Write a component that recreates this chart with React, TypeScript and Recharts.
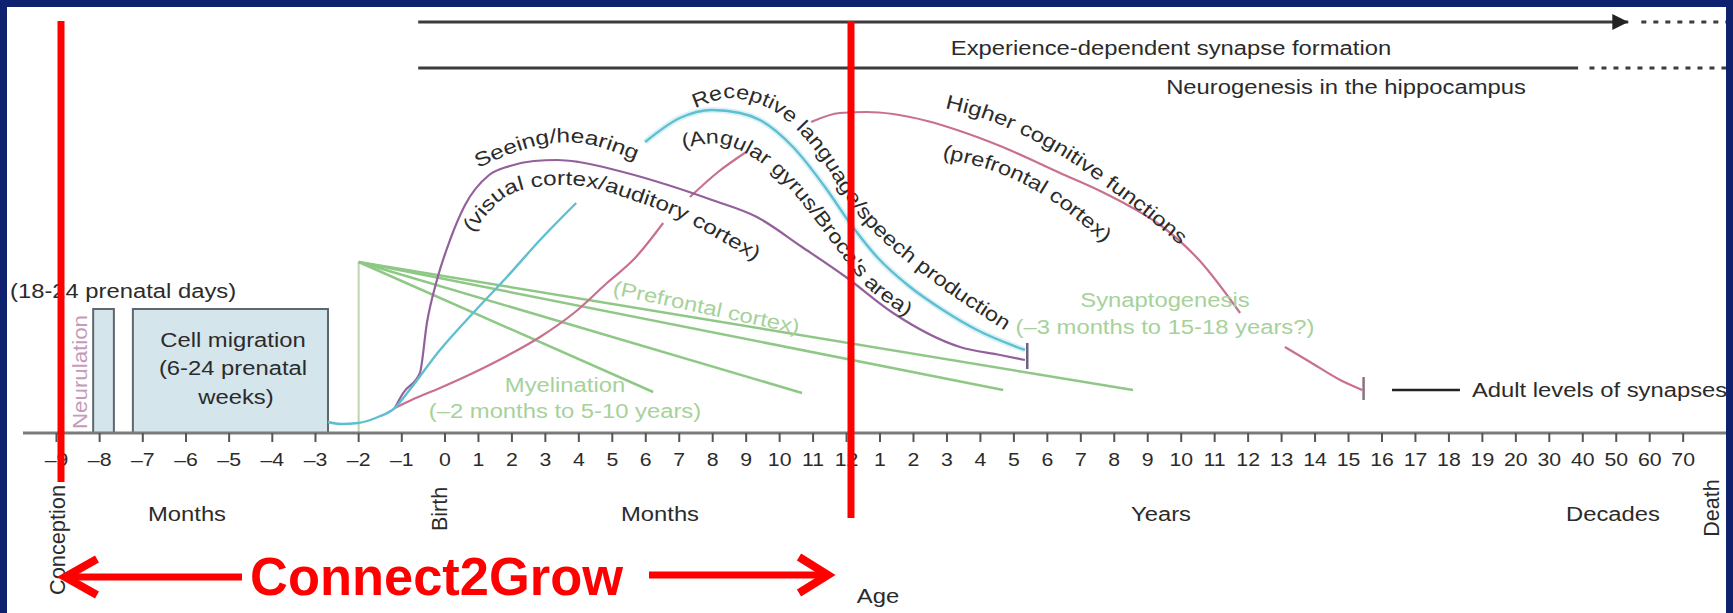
import React from 'react';
import { LineChart, Line, XAxis, YAxis, ReferenceArea } from 'recharts';

// Age axis in "steps": after birth one step is one tick (month, then year, then decade).
// Prenatal months are drawn wider on the original figure, 1.29 steps each.
const PRENATAL_STEP = 1.29;

const prenatalMonths = [-9, -8, -7, -6, -5, -4, -3, -2, -1];
const infantMonths = [0, 1, 2, 3, 4, 5, 6, 7, 8, 9, 10, 11, 12];
const childYears = [1, 2, 3, 4, 5, 6, 7, 8, 9, 10, 11, 12, 13, 14, 15, 16, 17, 18, 19, 20];
const adultDecades = [30, 40, 50, 60, 70];

type Pt = [number, number | null];

// [age step, level above the axis]; null = gap behind a label
const receptiveRise: Pt[] = [
  [-3.5, 11], [-3.1, 9], [-2.6, 10], [-2.0, 16], [-1.5, 25], [-1.13, 40], [-0.15, 83],
  [0.84, 120], [1.85, 156], [2.84, 193], [3.92, 230],
];
const receptiveFall: Pt[] = [
  [5.98, 291], [7.02, 315], [7.98, 323], [8.82, 320], [9.41, 313], [10.4, 286], [11.42, 243],
  [12.1, 210], [12.91, 176], [13.9, 146], [14.88, 123], [15.9, 103], [17.33, 83],
];
const seeingHearing: Pt[] = [
  [-1.5, 25], [-1.25, 40], [-0.75, 60], [-0.54, 110], [-0.24, 153], [0.15, 193], [0.6, 228],
  [1.32, 258], [1.94, 267], [2.66, 272], [3.35, 273], [4.0, 271], [5.32, 261], [6.66, 248],
  [7.98, 233], [9.32, 216], [10.67, 186], [11.98, 156], [13.39, 120], [15.39, 86], [16.59, 78],
  [17.33, 73],
];
const higherCognitive: Pt[] = [
  [-1.5, 25], [-1.0, 33], [-0.15, 45], [0.84, 60], [1.79, 76], [2.84, 96], [3.89, 121],
  [4.84, 150], [5.68, 175], [6.52, 210], [6.9, null], [7.32, 236], [8.16, 261], [9.0, 281],
  [10.0, null], [10.94, 311], [11.8, 320], [12.6, 321], [13.39, 319], [14.41, 312], [15.39, 302],
  [16.59, 287], [18.38, 260], [19.58, 242], [20.5, 226], [21.37, 208], [22.56, 172],
  [23.76, 120], [24.4, null], [25.1, 86], [25.85, 71], [26.75, 53], [27.41, 43],
];

// green fan: myelination / synaptogenesis, all starting at -2 months
const fanStart = -2 * PRENATAL_STEP;
const fanTop = 171;
const fanEnds: Pt[] = [[6.22, 41], [10.67, 40], [16.68, 43], [20.56, 43]];

const experienceLine: Pt[] = [[-0.8, 411], [35.36, 411]];
const experienceLater: Pt[] = [[35.75, 411], [38.28, 411]];
const neurogenesisLine: Pt[] = [[-0.8, 365], [33.86, 365]];
const neurogenesisLater: Pt[] = [[34.2, 365], [38.28, 365]];
const adultLevelsKey: Pt[] = [[28.3, 43], [30.33, 43]];
const languageEndBar: Pt[] = [[17.4, 64], [17.4, 90]];
const cognitiveEndBar: Pt[] = [[27.45, 33], [27.45, 56]];

// prenatal phases, in months before birth
const neurulation = { from: -8.15, to: -7.67 };
const cellMigration = { from: -7.23, to: -2.71 };
const phaseHeight = 124;

const W = 1733;
const H = 613;
const FONT = '"Liberation Sans", Arial, Helvetica, sans-serif';
const INK = '#2b2b2b';
const GREEN_TEXT = '#a6d29a';

const rows = (pts: Pt[]) => pts.map(([t, v]) => ({ t, v }));

const axisTicks = [
  ...prenatalMonths.map((m) => ({ t: m * PRENATAL_STEP, label: `–${-m}` })),
  ...infantMonths.map((m) => ({ t: m, label: String(m) })),
  ...childYears.map((y) => ({ t: 12 + y, label: String(y) })),
  ...adultDecades.map((d) => ({ t: 30 + d / 10, label: String(d) })),
];
const tickLabel = new Map(axisTicks.map((k) => [k.t.toFixed(3), k.label]));

function smooth(pts: number[][]): string {
  let d = `M${pts[0][0]},${pts[0][1]}`;
  for (let i = 0; i < pts.length - 1; i++) {
    const p0 = pts[i - 1] || pts[i];
    const p1 = pts[i];
    const p2 = pts[i + 1];
    const p3 = pts[i + 2] || p2;
    const c1 = [p1[0] + (p2[0] - p0[0]) / 6, p1[1] + (p2[1] - p0[1]) / 6];
    const c2 = [p2[0] - (p3[0] - p1[0]) / 6, p2[1] - (p3[1] - p1[1]) / 6];
    d += ` C${c1[0]},${c1[1]} ${c2[0]},${c2[1]} ${p2[0]},${p2[1]}`;
  }
  return d;
}

function Label({ x, y, children, anchor = 'middle', size = 20, fill = INK, rotate = 0, stretch = 1.19, weight }: any) {
  return (
    <text
      transform={`translate(${x},${y}) rotate(${rotate}) scale(${stretch},1)`}
      textAnchor={anchor}
      fontSize={size}
      fill={fill}
      fontFamily={FONT}
      fontWeight={weight}
    >
      {children}
    </text>
  );
}

function Vertical({ x, y, children, size = 21.5, fill = INK, length }: any) {
  return (
    <text
      transform={`translate(${x},${y}) rotate(-90)`}
      textAnchor="middle"
      dy="0.36em"
      fontSize={size}
      fill={fill}
      fontFamily={FONT}
      textLength={length}
      lengthAdjust={length ? 'spacingAndGlyphs' : undefined}
    >
      {children}
    </text>
  );
}

function PathLabel({ id, pts, text, length, fill = INK }: any) {
  return (
    <g>
      <defs>
        <path id={id} d={smooth(pts)} />
      </defs>
      <text fontSize={20} fill={fill} fontFamily={FONT}>
        <textPath href={`#${id}`} textLength={length} lengthAdjust="spacingAndGlyphs">
          {text}
        </textPath>
      </text>
    </g>
  );
}

const AxisTick = (props: any) => {
  const { x, y, payload } = props;
  return (
    <text
      transform={`translate(${x},${y + 22}) scale(1.12,1)`}
      textAnchor="middle"
      fontSize={19}
      fill={INK}
      fontFamily={FONT}
    >
      {tickLabel.get(Number(payload.value).toFixed(3))}
    </text>
  );
};

export default function App() {
  const lineProps = { dataKey: 'v', dot: false, activeDot: false, isAnimationActive: false } as const;
  const lastExp = experienceLine.length - 1;

  return (
    <div style={{ position: 'fixed', left: 0, top: 0, width: W, height: H, background: '#0d216e' }}>
      <div style={{ position: 'absolute', left: 7, top: 7, width: W - 14, height: H - 7, background: '#fff' }} />
      <LineChart
        width={W}
        height={H}
        margin={{ top: 8, right: 7, left: 23, bottom: 150 }}
        style={{ position: 'absolute', left: 0, top: 0 }}
      >
        <XAxis
          dataKey="t"
          type="number"
          domain={[-12.61, 38.28]}
          allowDataOverflow
          ticks={axisTicks.map((k) => k.t)}
          interval={0}
          tick={AxisTick}
          tickSize={9}
          tickMargin={2}
          height={30}
          axisLine={{ stroke: '#7b7b7b', strokeWidth: 3 }}
          tickLine={{ stroke: '#555', strokeWidth: 2 }}
        />
        <YAxis type="number" domain={[0, 425]} allowDataOverflow hide />

        <ReferenceArea
          x1={neurulation.from * PRENATAL_STEP}
          x2={neurulation.to * PRENATAL_STEP}
          y1={0}
          y2={phaseHeight}
          fill="#d5e5ec"
          fillOpacity={1}
          stroke="#5e676c"
          strokeWidth={2}
        />
        <ReferenceArea
          x1={cellMigration.from * PRENATAL_STEP}
          x2={cellMigration.to * PRENATAL_STEP}
          y1={0}
          y2={phaseHeight}
          fill="#d5e5ec"
          fillOpacity={1}
          stroke="#5e676c"
          strokeWidth={2}
        />

        <Line {...lineProps} data={rows([[fanStart, 0], [fanStart, fanTop]])} type="linear" stroke="#b9d6b0" strokeWidth={2} />
        {fanEnds.map((end, i) => (
          <Line
            key={`fan${i}`}
            {...lineProps}
            data={rows([[fanStart, fanTop], end])}
            type="linear"
            stroke="#8fc886"
            strokeWidth={2.5}
          />
        ))}

        <Line {...lineProps} data={rows(receptiveFall)} type="monotone" stroke="#d9f2f7" strokeWidth={6} />
        <Line {...lineProps} data={rows(higherCognitive)} type="monotone" stroke="#c9708f" strokeWidth={2.2} />
        <Line {...lineProps} data={rows(seeingHearing)} type="monotone" stroke="#93609c" strokeWidth={2.2} />
        <Line {...lineProps} data={rows(receptiveRise)} type="monotone" stroke="#5fbfd0" strokeWidth={2.4} />
        <Line {...lineProps} data={rows(receptiveFall)} type="monotone" stroke="#5fbfd0" strokeWidth={2.4} />
        <Line {...lineProps} data={rows(languageEndBar)} type="linear" stroke="#6d6380" strokeWidth={2.5} />
        <Line {...lineProps} data={rows(cognitiveEndBar)} type="linear" stroke="#8a7080" strokeWidth={2.5} />

        <Line
          {...lineProps}
          data={rows(experienceLine)}
          type="linear"
          stroke="#3c3c3c"
          strokeWidth={3}
          dot={(p: any) =>
            p.index === lastExp ? (
              <path
                key="arrow"
                d={`M${p.cx - 16},${p.cy - 8} L${p.cx},${p.cy} L${p.cx - 16},${p.cy + 8} Z`}
                fill="#222"
              />
            ) : (
              <g key={`d${p.index}`} />
            )
          }
        />
        <Line {...lineProps} data={rows(experienceLater)} type="linear" stroke="#3c3c3c" strokeWidth={3} strokeDasharray="5 7" />
        <Line {...lineProps} data={rows(neurogenesisLine)} type="linear" stroke="#3c3c3c" strokeWidth={3} />
        <Line {...lineProps} data={rows(neurogenesisLater)} type="linear" stroke="#3c3c3c" strokeWidth={3} strokeDasharray="5 7" />
        <Line {...lineProps} data={rows(adultLevelsKey)} type="linear" stroke="#222" strokeWidth={2.5} />
      </LineChart>

      <svg width={W} height={H} style={{ position: 'absolute', left: 0, top: 0, pointerEvents: 'none' }}>
        <Label x={1171} y={55}>Experience-dependent synapse formation</Label>
        <Label x={1346} y={94}>Neurogenesis in the hippocampus</Label>
        <Label x={10} y={298} anchor="start">(18-24 prenatal days)</Label>
        <Vertical x={80} y={372} size={20} fill="#c49bba" length={114}>Neurulation</Vertical>
        <Label x={233} y={347}>Cell migration</Label>
        <Label x={233} y={375}>(6-24 prenatal</Label>
        <Label x={236} y={404}>weeks)</Label>

        <Label x={565} y={392} fill={GREEN_TEXT}>Myelination</Label>
        <Label x={565} y={418} fill={GREEN_TEXT}>(–2 months to 5-10 years)</Label>
        <Label x={705} y={314} fill={GREEN_TEXT} rotate={12}>(Prefrontal cortex)</Label>
        <Label x={1165} y={307} fill={GREEN_TEXT}>Synaptogenesis</Label>
        <Label x={1165} y={334} fill={GREEN_TEXT}>(–3 months to 15-18 years?)</Label>
        <Label x={1472} y={397} anchor="start">Adult levels of synapses</Label>

        <PathLabel id="seeing" text="Seeing/hearing" length={165}
          pts={[[478, 168], [516, 152], [552, 143], [592, 145], [638, 161]]} />
        <PathLabel id="visual" text="(visual cortex/auditory cortex)" length={318}
          pts={[[472, 233], [504, 198], [543, 186], [588, 187], [632, 200], [677, 217], [721, 241], [778, 274]]} />
        <PathLabel id="receptive" text="Receptive language/speech production" length={405}
          pts={[[695, 108], [730, 98], [766, 107], [793, 126], [820, 157], [842, 192], [866, 224], [900, 256], [950, 294], [1004, 330]]} />
        <PathLabel id="angular" text="(Angular gyrus/Broca's area)" length={296}
          pts={[[683, 148], [721, 144], [757, 160], [788, 187], [815, 220], [842, 256], [869, 289], [905, 316]]} />
        <PathLabel id="higher" text="Higher cognitive functions" length={275}
          pts={[[945, 108], [985, 119], [1025, 136], [1065, 158], [1105, 186], [1145, 216], [1187, 251]]} />
        <PathLabel id="prefrontal" text="(prefrontal cortex)" length={186}
          pts={[[942, 158], [990, 170], [1035, 190], [1072, 216], [1102, 241]]} />

        <Label x={187} y={521}>Months</Label>
        <Label x={660} y={521}>Months</Label>
        <Label x={1161} y={521}>Years</Label>
        <Label x={1613} y={521}>Decades</Label>
        <Label x={878} y={603}>Age</Label>
        <Vertical x={57} y={540} length={110}>Conception</Vertical>
        <Vertical x={439} y={509}>Birth</Vertical>
        <Vertical x={1711} y={508}>Death</Vertical>

        <g stroke="#ff0000" fill="none" strokeWidth={7}>
          <line x1={61} y1={21} x2={61} y2={482} />
          <line x1={851} y1={21} x2={851} y2={518} />
          <line x1={68} y1={577} x2={242} y2={577} />
          <polyline points="97,559 65,577 97,595" strokeWidth={8} />
          <line x1={649} y1={575} x2={822} y2={575} />
          <polyline points="799,557 828,575 799,593" strokeWidth={8} />
        </g>
        <text x={250} y={595} fontSize={53} fontWeight="bold" fill="#ff0000" fontFamily={FONT}
          textLength={373} lengthAdjust="spacingAndGlyphs">
          Connect2Grow
        </text>
      </svg>
    </div>
  );
}
